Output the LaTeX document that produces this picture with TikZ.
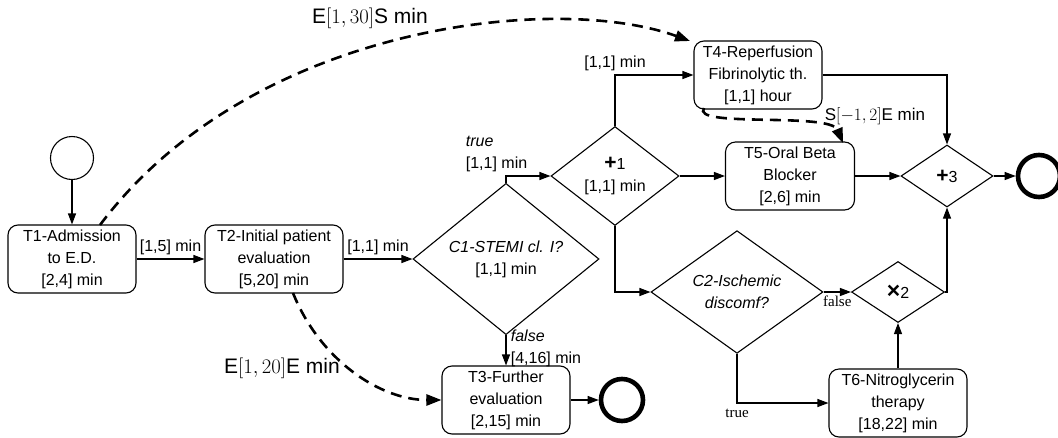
\documentclass[tikz,border=0pt]{standalone}
\usepackage{fontspec}
\setmainfont{Liberation Sans}
\newfontfamily\serifrm{Liberation Serif}
\usetikzlibrary{shapes.geometric,arrows.meta}

\begin{document}
\begin{tikzpicture}[
    x=1pt, y=-1pt,
    font=\fontsize{16}{22}\selectfont,
    task/.style={draw, rounded corners=10pt, minimum width=128pt, minimum height=68pt, align=center, line width=1.1pt, inner sep=2pt},
    gate/.style={draw, diamond, align=center, line width=1.1pt, inner sep=0pt},
    startev/.style={draw, circle, minimum size=43pt, inner sep=0pt, line width=1.1pt},
    endev/.style={draw, circle, minimum size=42pt, inner sep=0pt, line width=4.6pt},
    arr/.style={-{Triangle[length=11pt,width=8pt]}, line width=1.1pt},
    link/.style={-{Triangle[length=15pt,width=11pt]}, line width=2.6pt, dash pattern=on 11pt off 7pt},
    cond/.style={font=\serifrm\fontsize{15}{15}\selectfont},
    delay/.style={font=\fontsize{21}{21}\selectfont}
]
\useasboundingbox (0,0) rectangle (1058,437);

% tasks
\node[startev]                         (start) at (72, 158)  {};
\node[task]                            (t1)    at (72, 259)  {T1-Admission\\to E.D.\\{}[2,4] min};
\node[task, minimum width=138pt]       (t2)    at (274, 259) {T2-Initial patient\\evaluation\\{}[5,20] min};
\node[task]                            (t3)    at (506, 400) {T3-Further\\evaluation\\{}[2,15] min};
\node[task]                            (t4)    at (758, 75)  {T4-Reperfusion\\Fibrinolytic th.\\{}[1,1] hour};
\node[task, minimum width=129pt]       (t5)    at (790, 176) {T5-Oral Beta\\Blocker\\{}[2,6] min};
\node[task, minimum width=138pt]       (t6)    at (898, 403) {T6-Nitroglycerin\\therapy\\{}[18,22] min};
\node[endev]                           (end1)  at (622, 400) {};
\node[endev]                           (end2)  at (1039, 176) {};

% gateways
\node[gate, minimum width=186pt, minimum height=118pt] (c1) at (506, 259) {\textit{C1-STEMI cl. I?}\\{}[1,1] min};
\node[gate, minimum width=172pt, minimum height=113pt] (c2) at (737, 292) {\textit{C2-Ischemic}\\\textit{discomf?}};
\node[gate, minimum width=128pt, minimum height=84pt]  (p1) at (615, 176) {{\fontsize{21}{22}\selectfont\textbf{+}}1\\{}[1,1] min};
\node[gate, minimum width=93pt, minimum height=61pt]   (x2) at (898, 292) {{\fontsize{23}{22}\selectfont\textbf{\symbol{"00D7}}}2};
\node[gate, minimum width=92pt, minimum height=62pt]   (p3) at (947, 176) {{\fontsize{21}{22}\selectfont\textbf{+}}3};

% flow
\draw[arr] (start) -- (t1);
\draw[arr] (t1) -- node[above] {[1,5] min} (t2);
\draw[arr] (t2) -- node[above] {[1,1] min} (c1);
\draw[arr] (c1.north) |- node[pos=0.5, anchor=south west, xshift=-44pt, align=left] {\textit{true}\\{}[1,1] min} (p1.west);
\draw[arr] (c1.south) -- node[pos=0.45, right, xshift=1pt, align=left] {\textit{false}\\{}[4,16] min} (t3.north);
\draw[arr] (t3) -- (end1);
\draw[arr] (p1.north) |- node[pos=0.5, above] {[1,1] min} (t4.west);
\draw[arr] (p1.east) -- (t5.west);
\draw[arr] (p1.south) |- (c2.west);
\draw[arr] (c2.east) -- node[below, cond] {false} (x2.west);
\draw[arr] (c2.south) |- node[pos=0.5, below, cond, yshift=-2pt] {true} (t6.west);
\draw[arr] (t6) -- (x2.south);
\draw[arr] (x2.east) -| (p3.south);
\draw[arr] (t4.east) -| (p3.north);
\draw[arr] (t5.east) -- (p3.west);
\draw[arr] (p3.east) -- (end2);

% temporal constraints
\coordinate (a1) at (100, 225);
\coordinate (a2) at (690, 41);
\coordinate (b1) at (293, 293);
\coordinate (b2) at (704, 108);
\coordinate (b3) at (843, 143);
\draw[link] (a1) .. controls (250,25) and (555,-8) .. (a2);
\draw[link] (b1) .. controls (320,360) and (380,400) .. (t3.west);
\draw[link] (b2) .. controls (690,128) and (830,112) .. (b3);
\node[delay] (lab1) at (370, 18)  {E$[1,30]$S min};
\node[delay] (lab2) at (282, 368) {E$[1,20]$E min};
\node[delay, font=\fontsize{17}{17}\selectfont] (lab3) at (875, 116) {S$[-1,2]$E min};
\end{tikzpicture}
\end{document}
